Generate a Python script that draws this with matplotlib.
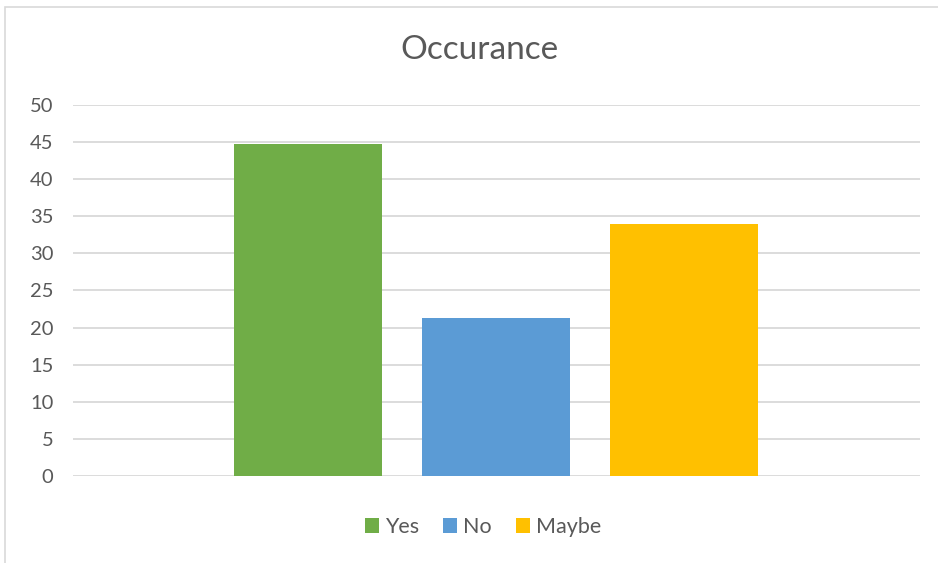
import matplotlib.pyplot as plt
from matplotlib.patches import Rectangle

# Données du graphique
series = ['Yes', 'No', 'Maybe']
valeurs = [44.7, 21.3, 34]
couleurs = ['#70ad47', '#5b9bd5', '#ffc000']
positions = [-1, 0, 1]
yticks = list(range(0, 55, 5))

plt.rcParams['font.family'] = ['Lato', 'DejaVu Sans']
gris_texte = '#595959'
gris_grille = '#d9d9d9'

fig = plt.figure(figsize=(9.38, 5.63), dpi=100)
fig.patch.set_facecolor('white')

# Cadre de la zone de graphique
fig.patches.append(Rectangle((4.5 / 938, -0.05), 1.1, 1 - 6.5 / 563 + 0.05,
                             transform=fig.transFigure, fill=False,
                             edgecolor=gris_grille, linewidth=1.2))

ax = fig.add_axes([73 / 938, 1 - 476 / 563, (920 - 73) / 938, (476 - 105) / 563])

for pos, val, coul, nom in zip(positions, valeurs, couleurs, series):
    ax.bar(pos, val, width=0.789, color=coul, label=nom, zorder=3)

ax.set_xlim(-2.255, 2.26)
ax.set_ylim(0, 50)
ax.set_yticks(yticks)
ax.set_xticks([])
ax.yaxis.grid(True, color=gris_grille, linewidth=1.3, zorder=0)
for s in ax.spines.values():
    s.set_visible(False)
ax.tick_params(axis='y', length=0, pad=14, labelsize=14.5, labelcolor=gris_texte)

fig.text(479 / 938, 1 - 50 / 563, 'Occurance', ha='center', va='center',
         fontsize=24, color=gris_texte)

leg = fig.legend(loc='center', bbox_to_anchor=(483 / 938, 1 - 527 / 563), ncol=3,
                 frameon=False, fontsize=15.5, handlelength=0.65, handleheight=0.65,
                 handletextpad=0.3, columnspacing=1.1, labelcolor=gris_texte)

plt.savefig('out.png', dpi=100)
